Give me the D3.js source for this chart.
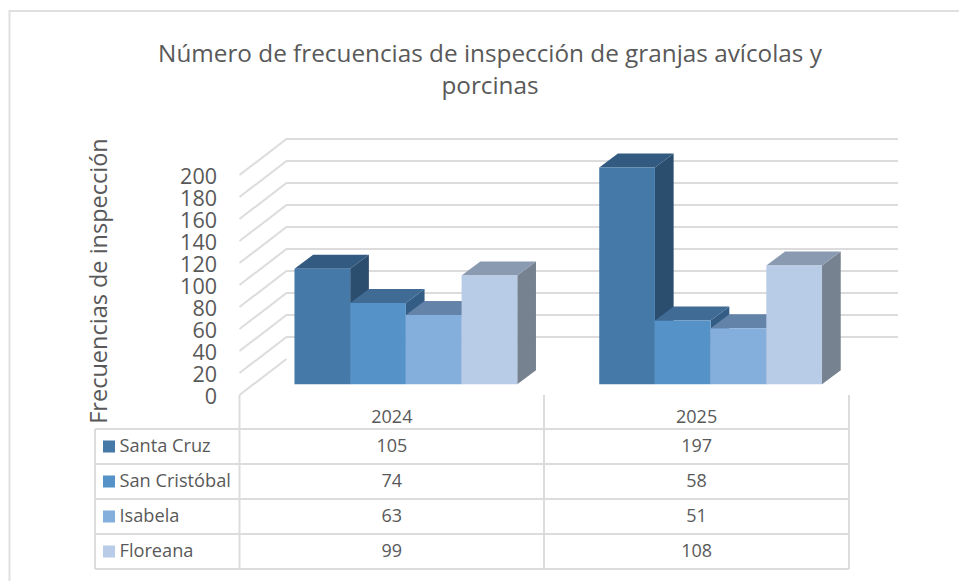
<!DOCTYPE html>
<html><head><meta charset="utf-8">
<script src="https://cdn.jsdelivr.net/npm/d3@7"></script>
<style>html,body{margin:0;padding:0;background:#fff}svg{display:block}text{font-family:"Open Sans",sans-serif;fill:#595959}</style>
</head><body>
<svg id="c" width="959" height="581"></svg>
<script>
const years = ["2024", "2025"];
const seriesNames = ["Santa Cruz", "San Cristóbal", "Isabela", "Floreana"];
const santaCruz = [105, 197];
const sanCristobal = [74, 58];
const isabela = [63, 51];
const floreana = [99, 108];
const seriesValues = [santaCruz, sanCristobal, isabela, floreana];
const yTicks = [0, 20, 40, 60, 80, 100, 120, 140, 160, 180, 200];
const titleLines = ["Número de frecuencias de inspección de granjas avícolas y", "porcinas"];
const yTitle = "Frecuencias de inspección";
const frontColors = ["#4579a8", "#5592c8", "#84aedc", "#b8cce8"];
const topColors = ["#335a80", "#3f6b95", "#6483a8", "#8a9ab1"];
const sideColors = ["#2b4d6e", "#345d85", "#56749a", "#76828f"];

const svg = d3.select("#c");
const grid = "#dcdcdc";
const y = d3.scaleLinear().domain([0, 200]).range([395, 175]);
const tableX = [239.5, 544, 849];
const x0 = d3.scaleBand().domain(years).range([tableX[0], tableX[2]]);
const wallDx = 47, wallDy = -36;
const barOffX = 14, barOffY = -10.7, depX = 18.7, depY = -14;
const bw = 55.7;

// frame
svg.append("path").attr("d", "M9.5,581V11H959").attr("fill", "none").attr("stroke", "#e0e0e0").attr("stroke-width", 2);

// titles
titleLines.forEach((t, i) => svg.append("text").attr("x", 490).attr("y", 62 + i * 32)
  .attr("text-anchor", "middle").attr("font-size", 24.3).text(t));
svg.append("text").attr("transform", "translate(107,281) rotate(-90)").attr("text-anchor", "middle")
  .attr("font-size", 23.5).text(yTitle);

// walls
const gridG = svg.append("g").attr("fill", "none").attr("stroke", grid).attr("stroke-width", 2);
yTicks.forEach(v => {
  const pts = v === 0
    ? [[tableX[0], y(v)], [tableX[0] + wallDx, y(v) + wallDy]]
    : [[tableX[0], y(v)], [tableX[0] + wallDx, y(v) + wallDy], [898, y(v) + wallDy]];
  gridG.append("path").attr("d", d3.line()(pts));
});

// y axis
const ax = svg.append("g").attr("transform", "translate(217,1.5)")
  .call(d3.axisLeft(y).tickValues(yTicks).tickSize(0).tickPadding(0));
ax.select(".domain").remove();
ax.selectAll("text").attr("font-size", 21.5).style("font-family", '"Open Sans",sans-serif').attr("dy", "0.32em").attr("x", 0);

// bars
years.forEach((yr, yi) => {
  const groupStart = x0(yr) + x0.bandwidth() / 2 - 2 * bw + barOffX;
  seriesValues.forEach((vals, si) => {
    const v = vals[yi];
    const l = groupStart + si * bw, r = l + bw;
    const t = y(v) + barOffY, b = y(0) + barOffY;
    const g = svg.append("g");
    g.append("path").attr("fill", sideColors[si])
      .attr("d", d3.line()([[r, t], [r + depX, t + depY], [r + depX, b + depY], [r, b]]));
    g.append("path").attr("fill", topColors[si])
      .attr("d", d3.line()([[l, t], [l + depX, t + depY], [r + depX, t + depY], [r, t]]));
    g.append("path").attr("fill", frontColors[si])
      .attr("d", d3.line()([[l, t], [r, t], [r, b], [l, b]]));
  });
});

// data table
const rowY = [429, 464, 499, 534, 569];
const tbl = svg.append("g").attr("fill", "none").attr("stroke", grid).attr("stroke-width", 2);
rowY.forEach(ry => tbl.append("path").attr("d", d3.line()([[95, ry], [tableX[2], ry]])));
tbl.append("path").attr("d", d3.line()([[95, rowY[0]], [95, rowY[4]]]));
tableX.forEach(tx => tbl.append("path").attr("d", d3.line()([[tx, y(0)], [tx, rowY[4]]])));

years.forEach(yr => svg.append("text").attr("x", x0(yr) + x0.bandwidth() / 2).attr("y", 423)
  .attr("text-anchor", "middle").attr("font-size", 18).text(yr));
seriesNames.forEach((name, si) => {
  const my = (rowY[si] + rowY[si + 1]) / 2;
  svg.append("rect").attr("x", 103).attr("y", my - 6).attr("width", 12).attr("height", 12).attr("fill", frontColors[si]);
  svg.append("text").attr("x", 119.5).attr("y", my + 5).attr("font-size", 18.2).text(name);
  years.forEach((yr, yi) => svg.append("text").attr("x", x0(yr) + x0.bandwidth() / 2).attr("y", my + 5.5)
    .attr("text-anchor", "middle").attr("font-size", 18).text(seriesValues[si][yi]));
});
</script>
</body></html>
